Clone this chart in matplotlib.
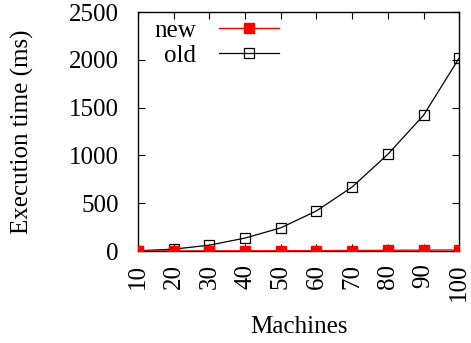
import matplotlib
matplotlib.use("Agg")
import matplotlib.pyplot as plt

machines = [10, 20, 30, 40, 50, 60, 70, 80, 90, 100]
new_times = [1, 1, 2, 2, 3, 4, 6, 8, 10, 12]
old_times = [3, 20, 62, 136, 243, 420, 670, 1012, 1420, 2020]

plt.rcParams["font.family"] = ["Liberation Serif", "DejaVu Serif"]
plt.rcParams["font.size"] = 18


def main():
    fig = plt.figure(figsize=(4.71, 3.43), dpi=100)
    ax = fig.add_axes([0.293, 0.268, 0.682, 0.697])

    ax.plot(machines, new_times, color="red", lw=1, marker="s", ms=7.5,
            mfc="red", mec="red", label="new", zorder=3)
    ax.plot(machines, old_times, color="black", lw=0.9, marker="s", ms=7.5,
            mfc="none", mec="black", mew=0.9, label="old")

    ax.set_xlim(10, 100)
    ax.set_ylim(0, 2500)
    ax.set_xticks(machines)
    ax.set_xticklabels([str(m) for m in machines], rotation=90)
    ax.set_yticks(range(0, 2501, 500))
    ax.tick_params(direction="in", top=True, right=True, length=5, width=0.8)
    ax.tick_params(axis="x", pad=9)
    ax.tick_params(axis="y", pad=14)
    for s in ax.spines.values():
        s.set_linewidth(1.0)

    ax.set_xlabel("Machines", labelpad=11)
    ax.set_ylabel("Execution time (ms)", labelpad=25)

    ax.legend(loc="upper left", frameon=False, markerfirst=False,
              handlelength=2.4, borderaxespad=0.0, labelspacing=0.1,
              handletextpad=0.9, bbox_to_anchor=(0.02, 1.01))

    fig.savefig("out.png", dpi=100)


if __name__ == "__main__":
    main()
